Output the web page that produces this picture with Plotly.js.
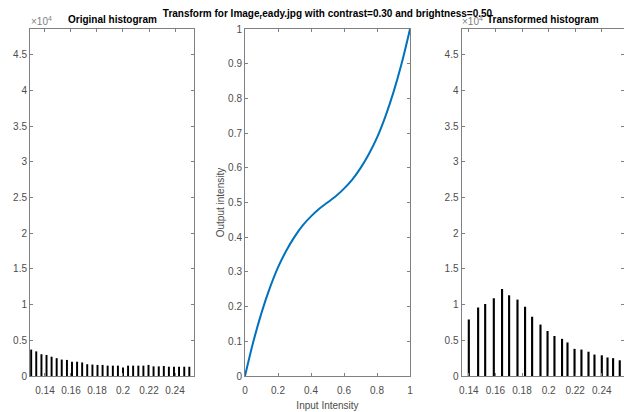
<!DOCTYPE html>
<html>
<head>
<meta charset="utf-8">
<script src="https://cdn.plot.ly/plotly-3.0.1.min.js"></script>
<style>html,body{margin:0;padding:0;background:#fff;}#chart{width:624px;height:412px;}</style>
</head>
<body>
<div id="chart"></div>
<script>
// Original histogram (intensity bins, counts)
var origX = [0.1294,0.1333,0.1373,0.1412,0.1451,0.1490,0.1529,0.1569,0.1608,0.1647,0.1686,0.1725,0.1765,0.1804,0.1843,0.1882,0.1922,0.1961,0.2000,0.2039,0.2078,0.2118,0.2157,0.2196,0.2235,0.2275,0.2314,0.2353,0.2392,0.2431,0.2471,0.2510];
var origCounts = [3700,3450,3050,2950,2700,2500,2300,2250,2000,2000,1900,1650,1600,1550,1550,1450,1450,1450,1200,1450,1450,1450,1450,1550,1350,1350,1400,1300,1300,1300,1300,1300];

// Transform curve (input -> output intensity)
var curveIn  = [0,0.05,0.1,0.15,0.2,0.25,0.3,0.35,0.4,0.45,0.5,0.55,0.6,0.65,0.7,0.75,0.8,0.85,0.9,0.95,1];
var curveOut = [0,0.098,0.182,0.253,0.313,0.361,0.401,0.434,0.460,0.482,0.500,0.518,0.540,0.566,0.599,0.639,0.687,0.747,0.818,0.902,1.0];

// Transformed histogram
var transX = [0.1400,0.1470,0.1523,0.1588,0.1650,0.1703,0.1766,0.1823,0.1876,0.1939,0.1992,0.2044,0.2101,0.2142,0.2195,0.2247,0.2300,0.2345,0.2400,0.2443,0.2485,0.2535];
var transCounts = [7900,9600,10100,10900,12200,11300,10700,9700,8300,7200,6300,5600,5200,4700,3800,3700,3400,3000,2900,2600,2500,2200];

// Tick labels
var histTickVals = [0.14,0.16,0.18,0.2,0.22,0.24];
var histTickText = ['0.14','0.16','0.18','0.2','0.22','0.24'];
var countTickVals = [0,5000,10000,15000,20000,25000,30000,35000,40000,45000];
var countTickText = ['0','0.5','1','1.5','2','2.5','3','3.5','4','4.5'];

var FONT = 'Liberation Sans, Arial, Helvetica, sans-serif';
var axCol = '#808080';
var tickFont = {family: FONT, size: 10, color: '#4d4d4d'};
function ax(extra) {
  var base = {showline: true, linecolor: axCol, linewidth: 1, mirror: 'ticks', ticks: 'inside',
    ticklen: 3, tickcolor: axCol, tickwidth: 1, showgrid: false, zeroline: false, tickfont: tickFont,
    fixedrange: true};
  for (var k in extra) base[k] = extra[k];
  return base;
}

var yTop = 1 - 29/412, yBot = 1 - 376/412;

var data = [
  {type: 'bar', x: origX, y: origCounts, width: 0.0015, marker: {color: '#000', line: {width: 0}},
   xaxis: 'x', yaxis: 'y', hoverinfo: 'skip'},
  {type: 'scatter', mode: 'lines', x: curveIn, y: curveOut, line: {color: '#0072BD', width: 2, shape: 'spline', smoothing: 1},
   xaxis: 'x2', yaxis: 'y2', hoverinfo: 'skip'},
  {type: 'bar', x: transX, y: transCounts, width: 0.0016, marker: {color: '#000', line: {width: 0}},
   xaxis: 'x3', yaxis: 'y3', hoverinfo: 'skip'}
];

var layout = {
  width: 624, height: 412,
  margin: {l: 0, r: 0, t: 0, b: 0},
  paper_bgcolor: '#fff', plot_bgcolor: '#fff',
  showlegend: false,
  title: {text: 'Transform for Image<sub>r</sub>eady.jpg with contrast=0.30 and brightness=0.50',
    font: {family: FONT, size: 10, color: '#000', weight: 'bold'},
    x: 327.5/624, xanchor: 'center', xref: 'container', y: 1 - 13.5/412, yanchor: 'middle', yref: 'container'},
  xaxis: ax({domain: [30/624, 194/624], range: [0.1285, 0.2546], tickvals: histTickVals, ticktext: histTickText, anchor: 'y', ticklabelstandoff: 5}),
  yaxis: ax({domain: [yBot, yTop], range: [0, 48600], tickvals: countTickVals, ticktext: countTickText, anchor: 'x'}),
  xaxis2: ax({domain: [245/624, 410/624], range: [0, 1], dtick: 0.2, tick0: 0, anchor: 'y2', ticklabelstandoff: 5,
    title: {text: 'Input Intensity', font: {family: FONT, size: 10, color: '#4d4d4d'}, standoff: 6}}),
  yaxis2: ax({domain: [yBot, yTop], range: [0, 1], dtick: 0.1, tick0: 0, anchor: 'x2',
    title: {text: 'Output intensity', font: {family: FONT, size: 10, color: '#4d4d4d'}, standoff: 1}}),
  xaxis3: ax({domain: [461.5/624, 1], range: [0.1345, 0.2567], tickvals: histTickVals, ticktext: histTickText, anchor: 'y3', ticklabelstandoff: 5}),
  yaxis3: ax({domain: [yBot, yTop], range: [0, 48600], tickvals: countTickVals, ticktext: countTickText, anchor: 'x3'}),
  annotations: [
    {text: 'Original histogram', xref: 'paper', yref: 'paper', x: 112/624, y: 1 - 19.5/412, xanchor: 'center', yanchor: 'middle',
     showarrow: false, font: {family: FONT, size: 10, color: '#000', weight: 'bold'}},
    {text: 'Transformed histogram', xref: 'paper', yref: 'paper', x: 543/624, y: 1 - 19.5/412, xanchor: 'center', yanchor: 'middle',
     showarrow: false, font: {family: FONT, size: 10, color: '#000', weight: 'bold'}},
    {text: '×10<sup>4</sup>', xref: 'paper', yref: 'paper', x: 29/624, y: 1 - 21/412, xanchor: 'left', yanchor: 'middle',
     showarrow: false, font: {family: FONT, size: 10, color: '#808080'}},
    {text: '×10<sup>4</sup>', xref: 'paper', yref: 'paper', x: 460/624, y: 1 - 21/412, xanchor: 'left', yanchor: 'middle',
     showarrow: false, font: {family: FONT, size: 10, color: '#808080'}}
  ]
};

Plotly.newPlot('chart', data, layout, {displayModeBar: false, staticPlot: true});
</script>
</body>
</html>
